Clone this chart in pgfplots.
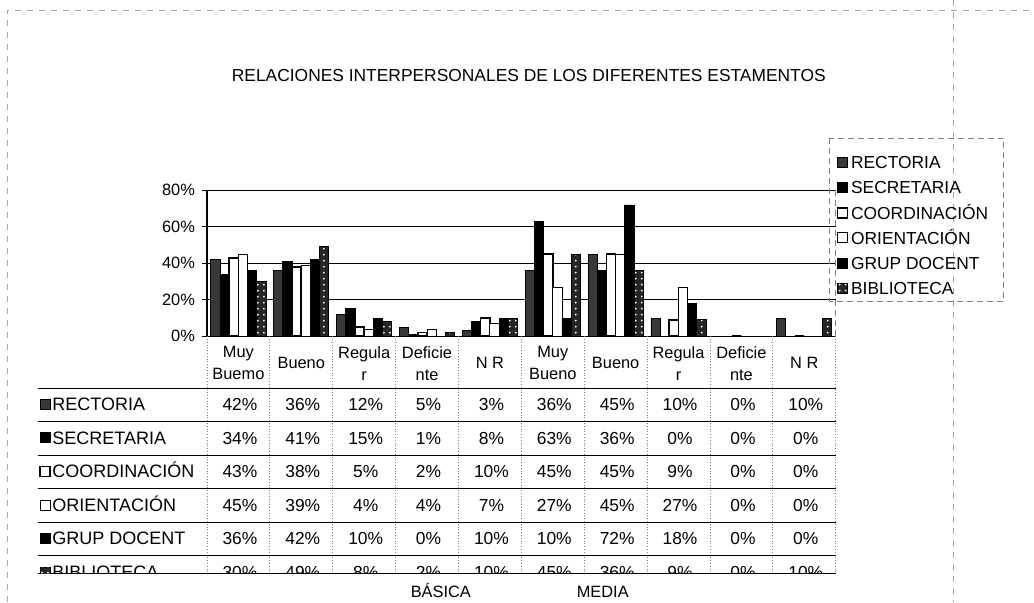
\documentclass[border=0pt]{standalone}
\usepackage{fontspec}
\setmainfont{Liberation Sans}
\usepackage{pgfplots}
\pgfplotsset{compat=1.18}
\usepackage{pgfplotstable}
\usetikzlibrary{patterns}

% one column per estamento, one row per category (0-4 BASICA, 5-9 MEDIA)
\pgfplotstableread{
x rect secr coord orient grup bibl
0 42 34 43 45 36 30
1 36 41 38 39 42 49
2 12 15 5 4 10 8
3 5 1 2 4 0 2
4 3 8 10 7 10 10
5 36 63 45 27 10 45
6 45 36 45 45 72 36
7 10 0 9 27 18 9
8 0 0 0 0 0 0
9 10 0 0 0 0 10
}\datos

\newcommand\fs{\fontsize{8.7}{10}\selectfont}
\newcommand\fc{\fontsize{8.2}{11}\selectfont}
\tikzset{
  s1/.style={draw=black, fill=black!78},
  s2/.style={draw=black, fill=black},
  s3/.style={draw=black, fill=white, line width=0.8pt},
  s4/.style={draw=black, fill=white},
  s5/.style={draw=black, fill=black},
  s6/.style={draw=black, fill=black!85, postaction={pattern=dots, pattern color=white}},
  txt/.style={inner sep=0pt, text height=6.3pt, text depth=0pt},
}

\begin{document}
\begin{tikzpicture}
\begin{scope}[x=0.5pt, y=-0.5pt, yshift=301pt]
  \path[use as bounding box] (0,0) rectangle (1034,602);
\end{scope}

\begin{axis}[
  at={(103.5pt,133pt)}, anchor=south west,
  width=314.5pt, height=73pt, scale only axis,
  xmin=-0.5, xmax=9.5, ymin=0, ymax=80,
  ybar=0pt, bar width=4.6pt,
  xtick=\empty,
  ytick={0,20,40,60,80},
  yticklabel={\pgfmathprintnumber{\tick}\%},
  /pgf/number format/assume math mode=true,
  ticklabel style={font=\fc},
  ymajorgrids, grid style={black, line width=0.5pt},
  tick align=outside, major tick length=2.5pt,
  tick style={black, line width=0.5pt},
  axis x line*=bottom, axis y line*=left,
  axis line style={-, black, line width=0.7pt},
  clip=false,
]
  \addplot[s1] table[x=x, y=rect]{\datos};
  \addplot[s2] table[x=x, y=secr]{\datos};
  \addplot[s3] table[x=x, y=coord]{\datos};
  \addplot[s4] table[x=x, y=orient]{\datos};
  \addplot[s5] table[x=x, y=grup]{\datos};
  \addplot[s6] table[x=x, y=bibl]{\datos};
  \draw[gray, densely dashed] (rel axis cs:1,0) -- (rel axis cs:1,1);
\end{axis}

\begin{scope}[x=0.5pt, y=-0.5pt, yshift=301pt]
  % page frame (scan)
  \draw[gray!70, dashed, line width=0.4pt] (7,602) -- (7,10) -- (1034,10);
  \draw[gray!70, dashed, line width=0.4pt] (954,0) -- (954,602);

  \node[font=\fs, txt] at (529,75) {RELACIONES INTERPERSONALES DE LOS DIFERENTES ESTAMENTOS};

  % legend
  \draw[gray, densely dashed, line width=0.5pt] (830,138) rectangle (1004,301);
  \foreach \s/\t [count=\i from 0] in {s1/RECTORIA, s2/SECRETARIA, s3/COORDINACIÓN, s4/ORIENTACIÓN, s5/GRUP DOCENT, s6/BIBLIOTECA} {
    \path[\s] (838,{162+25.2*\i-5}) rectangle (848,{162+25.2*\i+5});
    \node[font=\fs, txt, anchor=west] at (851,{162+25.2*\i}) {\t};
  }

  % category labels
  \foreach \t [count=\c from 0] in {Muy\\Buemo, Bueno, Regula\\r, Deficie\\nte, N R, Muy\\Bueno, Bueno, Regula\\r, Deficie\\nte, N R} {
    \node[font=\fc, align=center, inner sep=0pt] at ({238.5+62.9*\c},363) {\t};
  }

  % data table
  \foreach \k in {0,...,10} {
    \draw[gray, densely dotted, line width=0.4pt] ({207+62.9*\k},336) -- ({207+62.9*\k},573);
  }
  \foreach \yy in {388,421,455,488,522,555,573} {
    \draw[black, line width=0.6pt] (38,\yy) -- (836,\yy);
  }
  \begin{scope}
    \clip (0,0) rectangle (1034,573);
    \foreach \col/\s/\t [count=\r from 0] in {rect/s1/RECTORIA, secr/s2/SECRETARIA, coord/s3/COORDINACIÓN, orient/s4/ORIENTACIÓN, grup/s5/GRUP DOCENT, bibl/s6/BIBLIOTECA} {
      \path[\s] (40,{404+33.6*\r-5}) rectangle (50,{404+33.6*\r+5});
      \node[font=\fontsize{9}{10}\selectfont, txt, anchor=west] at (52,{404+33.6*\r}) {\t};
      \foreach \c in {0,...,9} {
        \pgfplotstablegetelem{\c}{\col}\of\datos
        \node[font=\fs, txt] at ({240+62.9*\c},{404+33.6*\r}) {\pgfplotsretval\%};
      }
    }
  \end{scope}

  \node[font=\fc, txt] at (441,591) {BÁSICA};
  \node[font=\fc, txt] at (603,591) {MEDIA};
\end{scope}
\end{tikzpicture}
\end{document}
